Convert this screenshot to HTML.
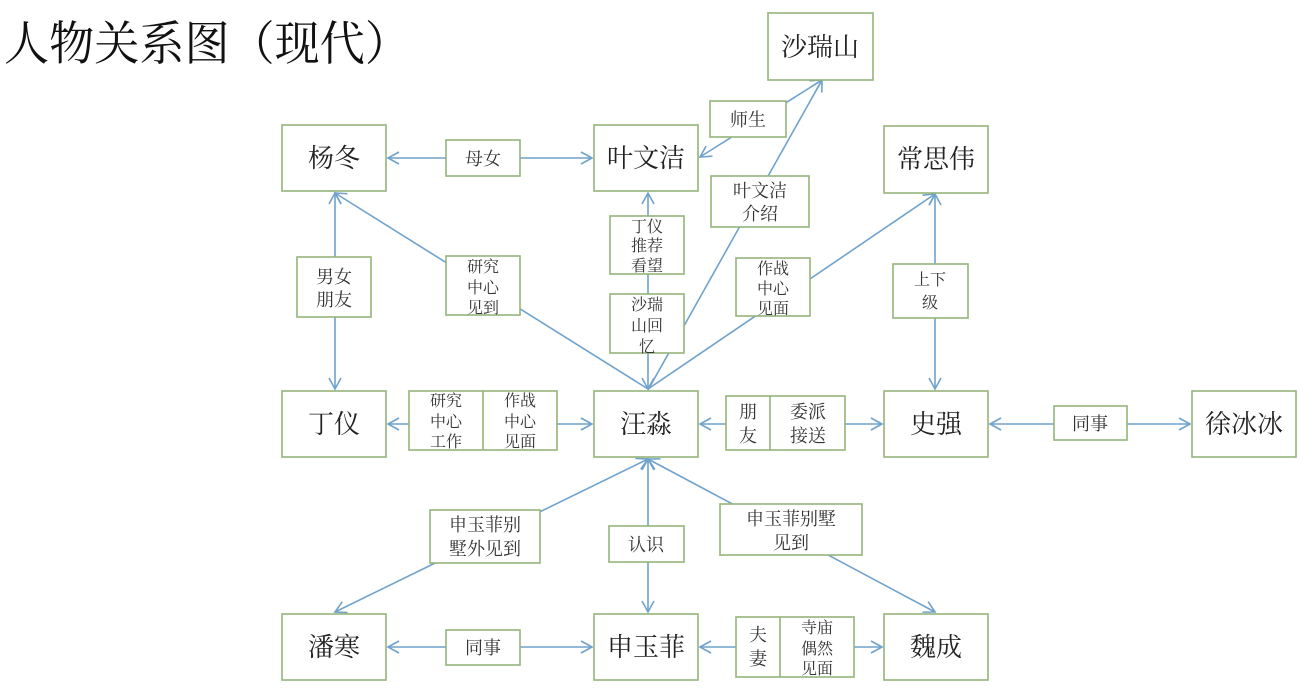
<!DOCTYPE html>
<html><head><meta charset="utf-8"><style>
html,body{margin:0;padding:0;background:#fff;}
svg{display:block;font-family:"Liberation Serif","Noto Serif CJK SC",serif;}
.n{fill:#fff;stroke:#95b47a;stroke-width:1.6}
.l{stroke:#6fa2cc;stroke-width:1.6;fill:none}
.t{font-size:26px;fill:#222;text-anchor:middle}
.s{font-size:18px;fill:#333;text-anchor:middle}
.x{font-size:16px;fill:#333;text-anchor:middle}
</style></head><body>
<svg width="1316" height="695" viewBox="0 0 1316 695">
<defs>
<marker id="a" markerWidth="14" markerHeight="14" refX="12" refY="7" orient="auto-start-reverse" markerUnits="userSpaceOnUse">
<path d="M1,1 L12,7 L1,13" fill="none" stroke="#6fa2cc" stroke-width="1.6"/></marker>
</defs>
<text x="4" y="60" textLength="406" lengthAdjust="spacingAndGlyphs" style="font-size:47px;fill:#111">人物关系图（现代）</text>

<!-- connectors -->
<line class="l" x1="446" y1="158" x2="388" y2="158" marker-end="url(#a)"/>
<line class="l" x1="520" y1="158" x2="592" y2="158" marker-end="url(#a)"/>
<line class="l" x1="700" y1="157" x2="822" y2="80" marker-start="url(#a)" marker-end="url(#a)"/>
<line class="l" x1="648" y1="390" x2="822" y2="80" marker-end="url(#a)"/>
<line class="l" x1="648" y1="193" x2="648" y2="389" marker-start="url(#a)" marker-end="url(#a)"/>
<line class="l" x1="648" y1="389" x2="335" y2="193" marker-end="url(#a)"/>
<line class="l" x1="648" y1="389" x2="935" y2="194" marker-end="url(#a)"/>
<line class="l" x1="335" y1="193" x2="335" y2="389" marker-start="url(#a)" marker-end="url(#a)"/>
<line class="l" x1="935" y1="194" x2="935" y2="389" marker-start="url(#a)" marker-end="url(#a)"/>
<line class="l" x1="388" y1="424" x2="592" y2="424" marker-start="url(#a)" marker-end="url(#a)"/>
<line class="l" x1="700" y1="424" x2="882" y2="424" marker-start="url(#a)" marker-end="url(#a)"/>
<line class="l" x1="990" y1="424" x2="1190" y2="424" marker-start="url(#a)" marker-end="url(#a)"/>
<line class="l" x1="648" y1="459" x2="335" y2="612" marker-start="url(#a)" marker-end="url(#a)"/>
<line class="l" x1="648" y1="459" x2="648" y2="612" marker-start="url(#a)" marker-end="url(#a)"/>
<line class="l" x1="648" y1="459" x2="935" y2="612" marker-start="url(#a)" marker-end="url(#a)"/>
<line class="l" x1="388" y1="647" x2="592" y2="647" marker-start="url(#a)" marker-end="url(#a)"/>
<line class="l" x1="700" y1="647" x2="882" y2="647" marker-start="url(#a)" marker-end="url(#a)"/>

<!-- main nodes -->
<rect class="n" x="768" y="13" width="105" height="67"/><text class="t" x="820" y="56">沙瑞山</text>
<rect class="n" x="282" y="125" width="104" height="66"/><text class="t" x="334" y="167">杨冬</text>
<rect class="n" x="594" y="125" width="104" height="66"/><text class="t" x="646" y="167">叶文洁</text>
<rect class="n" x="884" y="126" width="104" height="67"/><text class="t" x="936" y="168">常思伟</text>
<rect class="n" x="282" y="391" width="104" height="66"/><text class="t" x="334" y="433">丁仪</text>
<rect class="n" x="594" y="391" width="104" height="66"/><text class="t" x="646" y="433">汪淼</text>
<rect class="n" x="884" y="391" width="104" height="66"/><text class="t" x="936" y="433">史强</text>
<rect class="n" x="1192" y="391" width="104" height="66"/><text class="t" x="1244" y="433">徐冰冰</text>
<rect class="n" x="282" y="614" width="104" height="66"/><text class="t" x="334" y="656">潘寒</text>
<rect class="n" x="594" y="614" width="104" height="66"/><text class="t" x="646" y="656">申玉菲</text>
<rect class="n" x="884" y="614" width="104" height="66"/><text class="t" x="936" y="656">魏成</text>

<!-- labels -->
<rect class="n" x="710" y="101" width="76" height="36"/><text class="s" x="748" y="126">师生</text>
<rect class="n" x="446" y="140" width="74" height="36"/><text class="s" x="483" y="165">母女</text>
<rect class="n" x="711" y="176" width="98" height="51"/><text class="s" x="760" y="197">叶文洁</text><text class="s" x="760" y="220">介绍</text>
<rect class="n" x="610" y="216" width="74" height="58"/><text class="x" x="647" y="232">丁仪</text><text class="x" x="647" y="251">推荐</text><text class="x" x="647" y="271">看望</text>
<rect class="n" x="610" y="294" width="74" height="59"/><text class="x" x="647" y="310">沙瑞</text><text class="x" x="647" y="331">山回</text><text class="x" x="647" y="352">忆</text>
<rect class="n" x="446" y="256" width="74" height="59"/><text class="x" x="483" y="272">研究</text><text class="x" x="483" y="293">中心</text><text class="x" x="483" y="313">见到</text>
<rect class="n" x="736" y="258" width="74" height="58"/><text class="x" x="773" y="274">作战</text><text class="x" x="773" y="294">中心</text><text class="x" x="773" y="314">见面</text>
<rect class="n" x="297" y="257" width="74" height="60"/><text class="s" x="334" y="283">男女</text><text class="s" x="334" y="306">朋友</text>
<rect class="n" x="893" y="264" width="75" height="54"/><text class="x" x="930" y="285">上下</text><text class="x" x="930" y="308">级</text>
<rect class="n" x="409" y="391" width="148" height="59"/><line class="n" x1="483" y1="391" x2="483" y2="450"/>
<text class="x" x="446" y="406">研究</text><text class="x" x="446" y="427">中心</text><text class="x" x="446" y="447">工作</text>
<text class="x" x="520" y="406">作战</text><text class="x" x="520" y="427">中心</text><text class="x" x="520" y="447">见面</text>
<rect class="n" x="726" y="396" width="119" height="54"/><line class="n" x1="770" y1="396" x2="770" y2="450"/>
<text class="s" x="748" y="418">朋</text><text class="s" x="748" y="442">友</text>
<text class="s" x="808" y="418">委派</text><text class="s" x="808" y="442">接送</text>
<rect class="n" x="1054" y="406" width="73" height="34"/><text class="s" x="1090" y="430">同事</text>
<rect class="n" x="430" y="510" width="110" height="53"/><text class="s" x="485" y="531">申玉菲别</text><text class="s" x="485" y="555">墅外见到</text>
<rect class="n" x="609" y="526" width="75" height="36"/><text class="s" x="646" y="551">认识</text>
<rect class="n" x="720" y="504" width="142" height="51"/><text class="s" x="791" y="525">申玉菲别墅</text><text class="s" x="791" y="549">见到</text>
<rect class="n" x="446" y="630" width="74" height="35"/><text class="s" x="483" y="654">同事</text>
<rect class="n" x="736" y="617" width="118" height="60"/><line class="n" x1="780" y1="617" x2="780" y2="677"/>
<text class="s" x="758" y="641">夫</text><text class="s" x="758" y="665">妻</text>
<text class="x" x="817" y="633">寺庙</text><text class="x" x="817" y="654">偶然</text><text class="x" x="817" y="674">见面</text>
</svg>
</body></html>
